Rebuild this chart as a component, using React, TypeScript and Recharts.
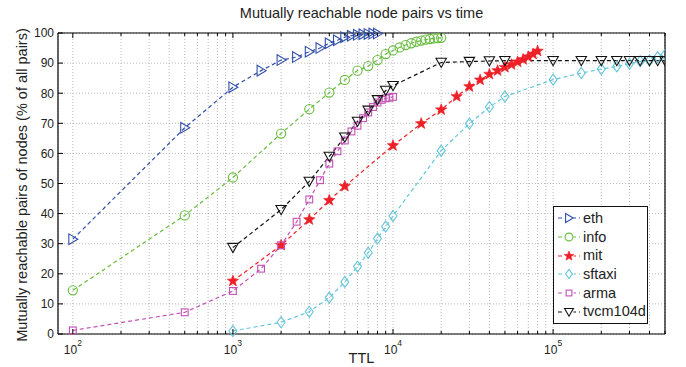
import React from 'react'
import {
  LineChart,
  Line,
  XAxis,
  YAxis,
  CartesianGrid,
} from 'recharts'

const FONT = '"Liberation Sans", Arial, Helvetica, sans-serif'

// TTL values and reachable pairs (%) per trace
const ethX = [100, 500, 1000, 1500, 2000, 2500, 3000, 3500, 4000, 4500, 5000, 5500, 6000, 6500, 7000, 7500, 8000]
const ethY = [31.5, 68.5, 82, 87.5, 91, 92, 93.8, 95, 96.6, 97.6, 98.6, 99.1, 99.4, 99.6, 99.7, 99.8, 99.8]

const infoX = [100, 500, 1000, 2000, 3000, 4000, 5000, 6000, 7000, 8000, 9000, 10000, 11000, 12000, 13000, 14000, 15000, 16000, 17000, 18000, 19000, 20000]
const infoY = [14.5, 39.4, 52, 66.6, 74.7, 80.2, 84.4, 87.5, 89, 91, 93, 94.2, 95.2, 96, 96.6, 97.1, 97.5, 97.8, 98, 98.2, 98.3, 98.4]

const mitX = [1000, 2000, 3000, 4000, 5000, 10000, 15000, 20000, 25000, 30000, 35000, 40000, 45000, 50000, 55000, 60000, 65000, 70000, 75000, 80000]
const mitY = [17.6, 29.5, 38, 44.4, 49.1, 62.6, 69.9, 74.5, 78.9, 82.2, 84.4, 86.3, 87.5, 88.6, 89.5, 90.4, 91.2, 92.1, 93, 94]

const sftaxiX = [1000, 2000, 3000, 4000, 5000, 6000, 7000, 8000, 9000, 10000, 20000, 30000, 40000, 50000, 100000, 150000, 200000, 250000, 300000, 350000, 400000, 450000, 500000]
const sftaxiY = [1, 3.9, 7.4, 12.1, 17.3, 22.4, 27, 31.7, 35.7, 39.2, 60.9, 69.9, 75.4, 78.9, 84.5, 86.7, 88, 88.9, 89.8, 90.6, 90.9, 92, 92.8]

const armaX = [100, 500, 1000, 1500, 2000, 2500, 3000, 3500, 4000, 4500, 5000, 5500, 6000, 6500, 7000, 7500, 8000, 8500, 9000, 9500, 10000]
const armaY = [1.2, 7.2, 14.3, 21.7, 29.5, 37.3, 44.7, 51.1, 56.6, 60.7, 64.3, 67.3, 69.2, 71.7, 73.6, 75.4, 76.9, 77.8, 78.3, 78.5, 78.8]

const tvcmX = [1000, 2000, 3000, 4000, 5000, 6000, 7000, 8000, 9000, 10000, 20000, 30000, 40000, 50000, 100000, 150000, 200000, 250000, 300000, 350000, 400000, 450000, 500000]
const tvcmY = [28.7, 41.3, 50.7, 59, 65.4, 70.6, 74.3, 77.8, 80.9, 82.5, 90.2, 90.5, 90.7, 90.8, 90.8, 90.8, 90.8, 90.8, 90.8, 90.8, 90.8, 90.8, 90.8]

const majorTicks = [100, 1000, 10000, 100000]
const xTicks = [
  100, 200, 300, 400, 500, 600, 700, 800, 900,
  1000, 2000, 3000, 4000, 5000, 6000, 7000, 8000, 9000,
  10000, 20000, 30000, 40000, 50000, 60000, 70000, 80000, 90000,
  100000, 200000, 300000, 400000, 500000,
]
const yTicks = [0, 10, 20, 30, 40, 50, 60, 70, 80, 90, 100]

const zip = (xs: number[], ys: number[]) => xs.map((x, i) => ({ x, y: ys[i] }))

type Shape = 'tri-right' | 'circle' | 'star' | 'diamond' | 'square' | 'tri-down'

function Marker({ cx, cy, shape, color, k = 1 }: { cx: number; cy: number; shape: Shape; color: string; k?: number }) {
  const common = { fill: 'none', stroke: color, strokeWidth: 1.1 }
  switch (shape) {
    case 'tri-right':
      return <polygon points={`${cx - 4 * k},${cy - 5.3 * k} ${cx + 5 * k},${cy} ${cx - 4 * k},${cy + 5.3 * k}`} {...common} />
    case 'circle':
      return <circle cx={cx} cy={cy} r={4.6 * k} {...common} />
    case 'diamond':
      return <polygon points={`${cx},${cy - 5.5 * k} ${cx + 4 * k},${cy} ${cx},${cy + 5.5 * k} ${cx - 4 * k},${cy}`} {...common} />
    case 'square':
      return <rect x={cx - 3.4 * k} y={cy - 3.4 * k} width={6.8 * k} height={6.8 * k} {...common} />
    case 'tri-down':
      return <polygon points={`${cx - 5.2 * k},${cy - 4.2 * k} ${cx + 5.2 * k},${cy - 4.2 * k} ${cx},${cy + 5 * k}`} {...common} />
    case 'star': {
      const pts: string[] = []
      for (let i = 0; i < 10; i++) {
        const r = (i % 2 === 0 ? 6 : 2.5) * k
        const a = -Math.PI / 2 + (i * Math.PI) / 5
        pts.push(`${cx + r * Math.cos(a)},${cy + r * Math.sin(a)}`)
      }
      return <polygon points={pts.join(' ')} fill={color} stroke={color} strokeWidth={0.6} />
    }
  }
}

const series: { name: string; data: { x: number; y: number }[]; color: string; shape: Shape }[] = [
  { name: 'eth', data: zip(ethX, ethY), color: '#2f4ea8', shape: 'tri-right' },
  { name: 'info', data: zip(infoX, infoY), color: '#66bd3c', shape: 'circle' },
  { name: 'mit', data: zip(mitX, mitY), color: '#ee1f26', shape: 'star' },
  { name: 'sftaxi', data: zip(sftaxiX, sftaxiY), color: '#62c6da', shape: 'diamond' },
  { name: 'arma', data: zip(armaX, armaY), color: '#c44fb4', shape: 'square' },
  { name: 'tvcm104d', data: zip(tvcmX, tvcmY), color: '#111111', shape: 'tri-down' },
]

function BottomTick(props: any) {
  const { x, y, payload } = props
  const v = payload.value
  const major = majorTicks.includes(v)
  return (
    <g>
      <line x1={x} x2={x} y1={y} y2={y - (major ? 5 : 3)} stroke="#000" />
      {major && (
        <text x={x} y={y + 20} textAnchor="middle" fontSize={12} fontFamily={FONT} fill="#222">
          10<tspan dy={-8.5} fontSize={8.5}>{Math.round(Math.log10(v))}</tspan>
        </text>
      )}
    </g>
  )
}

function TopTick(props: any) {
  const { x, y, payload } = props
  const major = majorTicks.includes(payload.value)
  return <line x1={x} x2={x} y1={y} y2={y + (major ? 5 : 3)} stroke="#000" />
}

function LeftTick(props: any) {
  const { x, y, payload } = props
  return (
    <g>
      <line x1={x} x2={x + 5} y1={y} y2={y} stroke="#000" />
      <text x={x - 4} y={y + 4.3} textAnchor="end" fontSize={12} fontFamily={FONT} fill="#222">
        {payload.value}
      </text>
    </g>
  )
}

function RightTick(props: any) {
  const { x, y } = props
  return <line x1={x} x2={x - 5} y1={y} y2={y} stroke="#000" />
}

function LegendBox() {
  return (
    <div
      style={{
        position: 'absolute',
        left: 553,
        top: 206,
        width: 95,
        boxSizing: 'border-box',
        background: '#fff',
        border: '1.5px solid #111',
        padding: '2px 2px 2px 2px',
        fontFamily: FONT,
        fontSize: 14.5,
        color: '#222',
        lineHeight: '18.7px',
      }}
    >
      {series.map((s) => (
        <div key={s.name} style={{ display: 'flex', alignItems: 'center', height: 18.7 }}>
          <svg width={26} height={18} style={{ flex: 'none' }}>
            <line x1={2} x2={24} y1={9} y2={9} stroke={s.color} strokeWidth={1.2} strokeDasharray="4 3" />
            <rect x={8.5} y={2} width={9} height={14} fill="#fff" />
            <Marker cx={13} cy={9} shape={s.shape} color={s.color} k={0.85} />
          </svg>
          <span style={{ marginLeft: 1 }}>{s.name}</span>
        </div>
      ))}
    </div>
  )
}

export default function App() {
  return (
    <div style={{ position: 'absolute', left: 0, top: 0, width: 686, height: 367, background: '#fff', fontFamily: FONT }}>
      <div style={{ position: 'absolute', left: 58, width: 607, top: 5, textAlign: 'center', fontSize: 14.5, color: '#222' }}>
        Mutually reachable node pairs vs time
      </div>
      <div
        style={{
          position: 'absolute',
          left: 22,
          top: 185,
          transform: 'translate(-50%, -50%) rotate(-90deg)',
          whiteSpace: 'nowrap',
          fontSize: 14.5,
          color: '#222',
        }}
      >
        Mutually reachable pairs of nodes (% of all pairs)
      </div>
      <div style={{ position: 'absolute', left: 58, width: 607, top: 350, textAlign: 'center', fontSize: 14.5, color: '#222' }}>
        TTL
      </div>
      <LineChart width={686} height={367} margin={{ top: 32, right: 20, left: 0, bottom: 0 }}>
        <CartesianGrid stroke="#a8a8a8" strokeDasharray="1 2" strokeWidth={0.8} />
        <XAxis
          dataKey="x"
          type="number"
          scale="log"
          domain={[80.8, 500000]}
          allowDataOverflow
          ticks={xTicks}
          interval={0}
          height={33}
          tickSize={0}
          tickMargin={0}
          tickLine={false}
          axisLine={{ stroke: '#000', strokeWidth: 1.2 }}
          tick={<BottomTick />}
        />
        <XAxis
          xAxisId="top"
          orientation="top"
          dataKey="x"
          type="number"
          scale="log"
          domain={[80.8, 500000]}
          allowDataOverflow
          ticks={xTicks}
          interval={0}
          height={1}
          tickSize={0}
          tickMargin={0}
          tickLine={false}
          axisLine={{ stroke: '#000', strokeWidth: 1.2 }}
          tick={<TopTick />}
        />
        <YAxis
          type="number"
          domain={[0, 100]}
          ticks={yTicks}
          interval={0}
          width={58}
          tickSize={0}
          tickMargin={0}
          tickLine={false}
          axisLine={{ stroke: '#000', strokeWidth: 1.2 }}
          tick={<LeftTick />}
        />
        <YAxis
          yAxisId="right"
          orientation="right"
          type="number"
          domain={[0, 100]}
          ticks={yTicks}
          interval={0}
          width={1}
          tickSize={0}
          tickMargin={0}
          tickLine={false}
          axisLine={{ stroke: '#000', strokeWidth: 1.2 }}
          tick={<RightTick />}
        />
        {series.map((s) => (
          <Line
            key={s.name}
            data={s.data}
            dataKey="y"
            name={s.name}
            type="linear"
            stroke={s.color}
            strokeWidth={1.2}
            strokeDasharray="4 3"
            isAnimationActive={false}
            dot={(p: any) => <Marker key={`${s.name}-${p.index}`} cx={p.cx} cy={p.cy} shape={s.shape} color={s.color} />}
            activeDot={false}
          />
        ))}
      </LineChart>
      <LegendBox />
    </div>
  )
}
